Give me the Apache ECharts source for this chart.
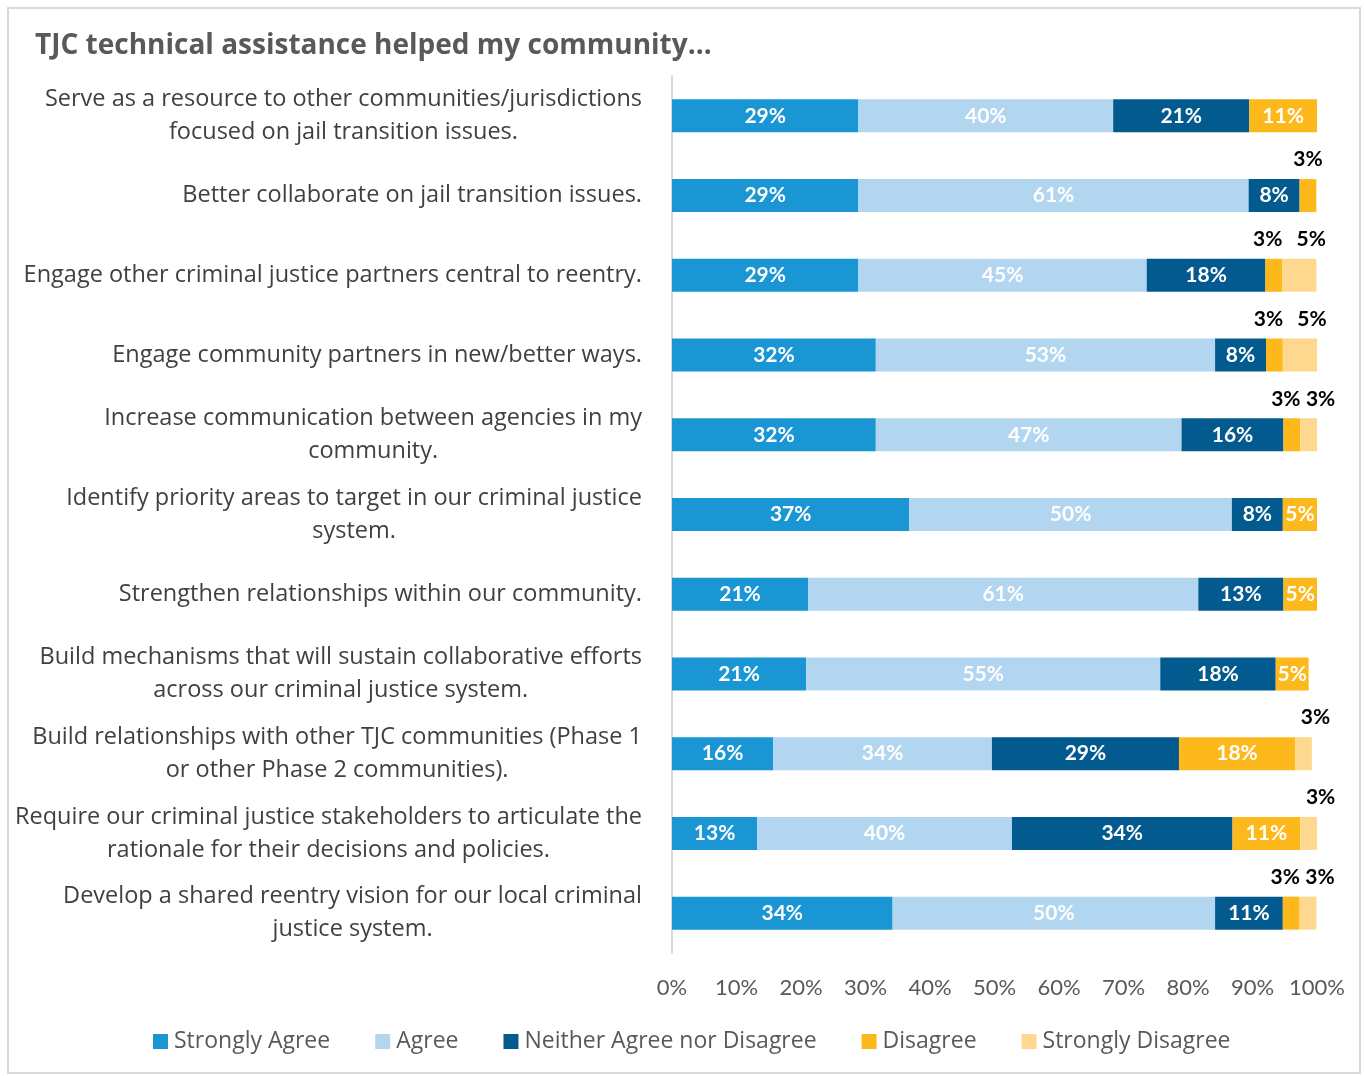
<!DOCTYPE html>
<html>
<head>
<meta charset="utf-8">
<script src="https://cdn.jsdelivr.net/npm/echarts@6/dist/echarts.min.js"></script>
<style>
html,body{margin:0;padding:0;background:#fff;}
#chart{width:1364px;height:1076px;}
</style>
</head>
<body>
<div id="chart"></div>
<script>
const titleText = 'TJC technical assistance helped my community…';
const categories = [
  'Serve as a resource to other communities/jurisdictions\nfocused on jail transition issues.',
  'Better collaborate on jail transition issues.',
  'Engage other criminal justice partners central to reentry.',
  'Engage community partners in new/better ways.',
  'Increase communication between agencies in my\ncommunity.',
  'Identify priority areas to target in our criminal justice\nsystem.',
  'Strengthen relationships within our community.',
  'Build mechanisms that will sustain collaborative efforts\nacross our criminal justice system.',
  'Build relationships with other TJC communities (Phase 1\nor other Phase 2 communities).',
  'Require our criminal justice stakeholders to articulate the\nrationale for their decisions and policies.',
  'Develop a shared reentry vision for our local criminal\njustice system.'
];
const seriesNames = ['Strongly Agree', 'Agree', 'Neither Agree nor Disagree', 'Disagree', 'Strongly Disagree'];
const stronglyAgree = [28.9, 28.9, 28.9, 31.6, 31.6, 36.8, 21.1, 20.8, 15.7, 13.2, 34.2];
const agree         = [39.5, 60.5, 44.7, 52.6, 47.4, 50.0, 60.5, 54.9, 33.9, 39.5, 50.0];
const neither       = [21.1, 7.9, 18.4, 7.9, 15.8, 7.9, 13.2, 17.9, 29.0, 34.2, 10.5];
const disagree      = [10.5, 2.6, 2.6, 2.6, 2.6, 5.3, 5.3, 5.1, 18.0, 10.5, 2.6];
const stronglyDisagree = [0, 0, 5.3, 5.3, 2.6, 0, 0, 0, 2.6, 2.6, 2.6];
const xTicks = [0, 10, 20, 30, 40, 50, 60, 70, 80, 90, 100];

const colors = ['#1996D3', '#B2D6F0', '#035A8E', '#FDB81B', '#FED88E'];
const allValues = [stronglyAgree, agree, neither, disagree, stronglyDisagree];
const FONT = 'Lato, "Open Sans", sans-serif';
const FONT2 = '"Open Sans", Lato, sans-serif';

const series = seriesNames.map((name, si) => ({
  name: name,
  type: 'bar',
  stack: 'total',
  barWidth: 33,
  itemStyle: { color: colors[si] },
  label: {
    show: true,
    position: 'inside',
    color: '#fff',
    fontFamily: FONT,
    fontWeight: 'bold',
    fontSize: 21,
    formatter: p => p.value > 0 ? Math.round(p.value) + '%' : ''
  },
  data: allValues[si].map((v, i) => {
    if (v > 0 && (si === 4 || v < 4)) {
      let dx = 0;
      if (si === 4) dx = 12;
      else if (stronglyDisagree[i] > 0) dx = -6;
      return {
        value: v,
        label: { position: 'top', color: '#000', distance: 9, offset: [dx, 0] }
      };
    }
    return v;
  })
}));

const chart = echarts.init(document.getElementById('chart'), null, { renderer: 'canvas' });
chart.setOption({
  animation: false,
  color: colors,
  title: {
    text: titleText,
    left: 30,
    top: 27,
    textStyle: { fontFamily: FONT2, fontWeight: 'bold', fontSize: 28, color: '#595959' }
  },
  graphic: [{
    type: 'rect',
    shape: { x: 8, y: 8, width: 1352, height: 1065 },
    style: { fill: 'none', stroke: '#D9D9D9', lineWidth: 2 },
    silent: true
  }],
  legend: {
    data: seriesNames,
    left: 148,
    top: 1025,
    itemWidth: 15,
    itemHeight: 15,
    itemGap: 45,
    icon: 'rect',
    textStyle: { fontFamily: FONT2, fontSize: 23, color: '#595959', padding: [0, 0, 0, 1] }
  },
  grid: { left: 672, right: 47, top: 76, bottom: 1076 - 953 },
  xAxis: {
    type: 'value',
    min: xTicks[0],
    max: xTicks[xTicks.length - 1],
    interval: 10,
    axisLine: { show: false },
    axisTick: { show: false },
    splitLine: { show: false },
    axisLabel: {
      formatter: '{value}%',
      margin: 24,
      fontFamily: FONT,
      fontSize: 22,
      color: '#595959'
    }
  },
  yAxis: {
    type: 'category',
    inverse: true,
    data: categories,
    axisTick: { show: false },
    axisLine: { show: true, lineStyle: { color: '#D9D9D9', width: 2 } },
    axisLabel: {
      margin: 30,
      align: 'right',
      formatter: v => v.split('\n').map(l => '{c|' + l + '}').join('\n'),
      rich: {
        c: { align: 'center', fontFamily: FONT2, fontSize: 23.5, color: '#404040', lineHeight: 33 }
      }
    }
  },
  series: series
});
</script>
</body>
</html>
